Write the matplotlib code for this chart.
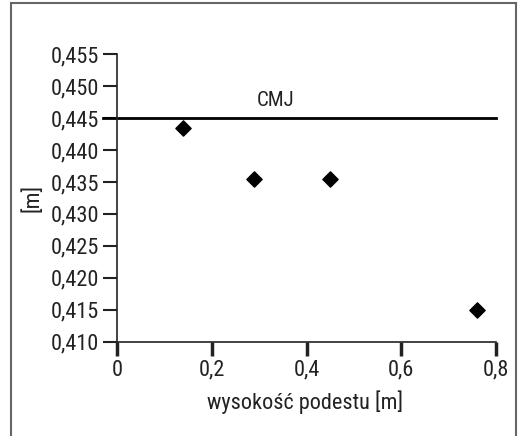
import matplotlib
matplotlib.use("Agg")
import matplotlib.pyplot as plt
from matplotlib.lines import Line2D

# data
heights = [0.14, 0.29, 0.45, 0.76]
values = [0.4435, 0.4355, 0.4355, 0.415]
cmj = 0.445
xticks = [0, 0.2, 0.4, 0.6, 0.8]
xtick_labels = ["0", "0,2", "0,4", "0,6", "0,8"]
yticks = [0.410, 0.415, 0.420, 0.425, 0.430, 0.435, 0.440, 0.445, 0.450, 0.455]
ytick_labels = ["0,410", "0,415", "0,420", "0,425", "0,430", "0,435", "0,440", "0,445", "0,450", "0,455"]

plt.rcParams['font.family'] = ['Roboto Condensed', 'Roboto', 'DejaVu Sans']

fig = plt.figure(figsize=(5.25, 4.36), dpi=100)
ax = fig.add_axes([0.223, 0.216, 0.722, 0.66])

ax.scatter(heights, values, marker='D', s=60, color='black', zorder=3)
ax.plot([-0.03, 0.8], [cmj, cmj], color='black', lw=2, clip_on=False)
ax.text(0.335, cmj + 0.0027, "CMJ", ha='center', va='center', fontsize=15, color='#222222')

ax.set_xlim(0, 0.8)
ax.set_ylim(0.410, 0.455)
ax.set_xticks(xticks)
ax.set_xticklabels(xtick_labels)
ax.set_yticks(yticks)
ax.set_yticklabels(ytick_labels)
ax.tick_params(axis='x', direction='out', length=10, width=2.5, labelsize=16, pad=3, colors='#222222')
ax.tick_params(axis='y', direction='out', length=10, width=1.5, labelsize=16, pad=3, colors='#222222')

for s in ['top', 'right']:
    ax.spines[s].set_visible(False)
for s in ['left', 'bottom']:
    ax.spines[s].set_linewidth(1.2)
    ax.spines[s].set_color('#222222')

ax.set_xlabel("wysokość podestu [m]", fontsize=16, color='#222222')
ax.set_ylabel("[m]", fontsize=16, color='#222222')
ax.xaxis.set_label_coords(0.496, -0.17)
ax.yaxis.set_label_coords(-0.195, 0.5)

# frame around the figure, open at the bottom
fc = '#666666'
fig.add_artist(Line2D([11/525, 11/525], [0, 1 - 3/436], transform=fig.transFigure, color=fc, lw=1.5))
fig.add_artist(Line2D([11/525, 516/525], [1 - 3/436, 1 - 3/436], transform=fig.transFigure, color=fc, lw=1.5))
fig.add_artist(Line2D([516/525, 516/525], [0, 1 - 3/436], transform=fig.transFigure, color=fc, lw=1.5))

fig.savefig("out.png", dpi=100)
